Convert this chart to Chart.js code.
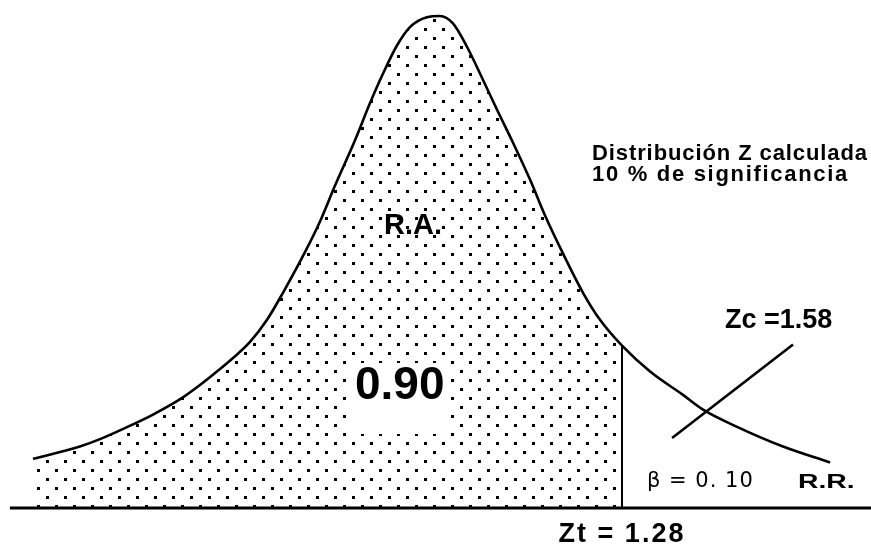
<!DOCTYPE html>
<html><head><meta charset="utf-8">
<script src="https://cdn.jsdelivr.net/npm/chart.js@4/dist/chart.umd.min.js"></script>
<style>html,body{margin:0;padding:0;background:#fff;overflow:hidden}#wrap{width:871px;height:549px;position:relative}</style>
</head><body><div id="wrap"><canvas id="c" width="871" height="549"></canvas></div>
<script>
// Curve: z value and drawn height (density units)
const curveZ = [-2.709, -2.391, -2.255, -2.032, -1.896, -1.693, -1.578, -1.463, -1.354, -1.239, -1.124, -1.016, -0.867, -0.765, -0.664, -0.528, -0.427, -0.339, -0.244, -0.156, -0.041, 0.047, 0.135, 0.230, 0.339, 0.433, 0.542, 0.657, 0.758, 0.880, 1.016, 1.131, 1.280, 1.470, 1.693, 1.829, 2.059, 2.370, 2.689];
const curveDensity = [0.040, 0.050, 0.056, 0.068, 0.076, 0.090, 0.100, 0.111, 0.122, 0.135, 0.153, 0.175, 0.208, 0.233, 0.262, 0.299, 0.329, 0.353, 0.376, 0.391, 0.399, 0.400, 0.394, 0.375, 0.348, 0.324, 0.297, 0.267, 0.238, 0.207, 0.175, 0.153, 0.132, 0.111, 0.092, 0.080, 0.066, 0.050, 0.037];
const zt = 1.28;                 // tabulated Z
const zc = 1.58;                 // calculated Z
const acceptArea = 0.90;
const beta = 0.10;
const crossZ = [1.619, 2.438];   // slanted marker line
const crossDensity = [0.057, 0.133];
const baselineZ = [-2.865, 2.966];
const baselineDensity = [0, 0];

const labelTitle = ['Distribución Z calculada', '10 % de significancia'];

// stipple pattern
function makeStipple() {
  const t = document.createElement('canvas');
  t.width = 18; t.height = 18;
  const g = t.getContext('2d');
  g.fillStyle = '#000';
  g.fillRect(1, 1, 3, 3);
  g.fillRect(10, 10, 3, 3);
  return g.createPattern(t, 'repeat');
}

const curvePts = curveZ.map((z, i) => ({x: z, y: curveDensity[i]}));
const acceptPts = curvePts.filter(p => p.x <= zt);
const ztTop = curveDensity[curveZ.indexOf(zt)];

function wideText(ctx, text, x, y, sx) {
  ctx.save();
  ctx.translate(x, y);
  ctx.scale(sx, 1);
  ctx.fillText(text, 0, 0);
  ctx.restore();
}

const textPlugin = {
  id: 'texts',
  afterDatasetsDraw(chart) {
    const ctx = chart.ctx;
    const xs = chart.scales.x;
    ctx.save();
    ctx.textBaseline = 'alphabetic';
    ctx.textAlign = 'left';
    // clear area around 0.90
    ctx.fillStyle = '#fff';
    ctx.fillRect(352, 363, 96, 71);
    ctx.fillStyle = '#000';

    ctx.font = 'bold 46px "Liberation Sans", Arial, sans-serif';
    ctx.fillText(acceptArea.toFixed(2), 355, 399);

    ctx.font = 'bold 29px "Liberation Sans", Arial, sans-serif';
    ctx.fillText('R.A.', 384, 234);

    ctx.font = 'bold 22px "Liberation Sans", Arial, sans-serif';
    ctx.letterSpacing = '0.9px';
    ctx.fillText(labelTitle[0], 592, 160);
    ctx.letterSpacing = '1.7px';
    ctx.fillText(labelTitle[1], 592, 181);
    ctx.letterSpacing = '0px';

    ctx.font = 'bold 27px "Liberation Sans", Arial, sans-serif';
    ctx.fillText('Zc =' + zc.toFixed(2), 725, 328);

    ctx.letterSpacing = '2px';
    ctx.textAlign = 'center';
    ctx.fillText('Zt = ' + zt.toFixed(2), xs.getPixelForValue(zt), 542);
    ctx.textAlign = 'left';

    ctx.letterSpacing = '1px';
    ctx.font = '21px "DejaVu Sans", sans-serif';
    ctx.fillText('β = 0. ' + Math.round(beta * 100), 647, 487);

    ctx.letterSpacing = '0px';
    ctx.font = 'bold 21px "Liberation Sans", Arial, sans-serif';
    wideText(ctx, 'R.R.', 798, 488, 1.35);
    ctx.restore();
  }
};

new Chart(document.getElementById('c'), {
  type: 'scatter',
  data: {
    datasets: [
      { data: acceptPts, showLine: true, fill: 'origin', backgroundColor: makeStipple(),
        borderWidth: 0, pointRadius: 0, cubicInterpolationMode: 'monotone', clip: false },
      { data: curvePts, showLine: true, fill: false, borderColor: '#000', borderWidth: 2.6,
        pointRadius: 0, cubicInterpolationMode: 'monotone', clip: false },
      { data: [{x: zt, y: 0}, {x: zt, y: ztTop}], showLine: true, fill: false,
        borderColor: '#000', borderWidth: 2, pointRadius: 0, clip: false },
      { data: baselineZ.map((z, i) => ({x: z, y: baselineDensity[i]})), showLine: true, fill: false,
        borderColor: '#000', borderWidth: 3, pointRadius: 0, clip: false },
      { data: crossZ.map((z, i) => ({x: z, y: crossDensity[i]})), showLine: true, fill: false,
        borderColor: '#000', borderWidth: 2.6, pointRadius: 0, clip: false }
    ]
  },
  options: {
    responsive: false, animation: false, devicePixelRatio: 1,
    layout: { padding: 0 },
    plugins: { legend: { display: false }, tooltip: { enabled: false } },
    scales: {
      x: { type: 'linear', min: -2.932, max: 2.966, display: false },
      y: { type: 'linear', min: -0.0333, max: 0.413, display: false }
    }
  },
  plugins: [textPlugin]
});
</script>
</body></html>
